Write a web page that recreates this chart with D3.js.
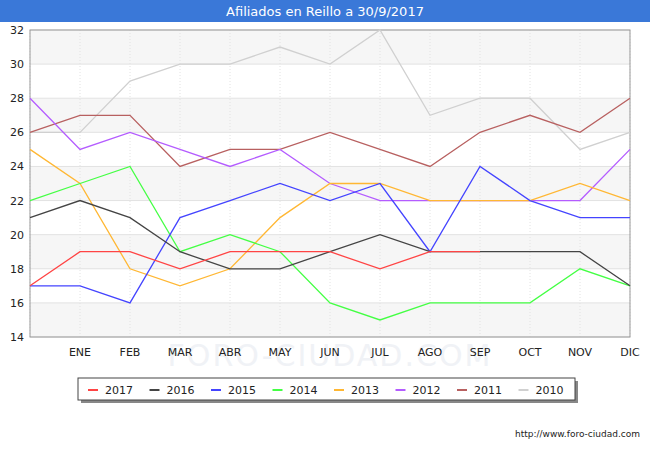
<!DOCTYPE html>
<html><head><meta charset="utf-8">
<script src="https://cdn.jsdelivr.net/npm/d3@7"></script>
<style>body{margin:0;background:#fff;font-family:"DejaVu Sans",sans-serif}</style>
</head><body><svg id="c" width="650" height="450"></svg>
<script>
var months = ['', 'ENE', 'FEB', 'MAR', 'ABR', 'MAY', 'JUN', 'JUL', 'AGO', 'SEP', 'OCT', 'NOV', 'DIC'];
var yTicks = [14, 16, 18, 20, 22, 24, 26, 28, 30, 32];
var years = ['2017', '2016', '2015', '2014', '2013', '2012', '2011', '2010'];
var colors = ['#ff4444', '#444444', '#4444ff', '#44ff44', '#ffb733', '#b45cff', '#b86060', '#d0d0d0'];
var s2017 = [17, 19, 19, 18, 19, 19, 19, 18, 19, 19];
var s2016 = [21, 22, 21, 19, 18, 18, 19, 20, 19, 19, 19, 19, 17];
var s2015 = [17, 17, 16, 21, 22, 23, 22, 23, 19, 24, 22, 21, 21];
var s2014 = [22, 23, 24, 19, 20, 19, 16, 15, 16, 16, 16, 18, 17];
var s2013 = [25, 23, 18, 17, 18, 21, 23, 23, 22, 22, 22, 23, 22];
var s2012 = [28, 25, 26, 25, 24, 25, 23, 22, 22, 22, 22, 22, 25];
var s2011 = [26, 27, 27, 24, 25, 25, 26, 25, 24, 26, 27, 26, 28];
var s2010 = [26, 26, 29, 30, 30, 31, 30, 32, 27, 28, 28, 25, 26];
var series = [s2017, s2016, s2015, s2014, s2013, s2012, s2011, s2010];

var svg = d3.select('#c');
var x = d3.scaleLinear().domain([0, 12]).range([30, 630]);
var y = d3.scaleLinear().domain([14, 32]).range([337, 30]);

// title bar
svg.append('rect').attr('width', 650).attr('height', 22).attr('fill', '#3a78d8');
svg.append('text').attr('x', 325).attr('y', 16).attr('text-anchor', 'middle')
    .attr('fill', '#fff').style('font-size', '13px').text('Afiliados en Reillo a 30/9/2017');

// bands
for (var i = 0; i < yTicks.length - 1; i++) {
    svg.append('rect').attr('x', 30).attr('width', 600)
        .attr('y', y(yTicks[i + 1])).attr('height', y(yTicks[i]) - y(yTicks[i + 1]))
        .attr('fill', i % 2 ? '#ffffff' : '#f6f6f6');
}
svg.selectAll('.hg').data(yTicks).enter().append('line')
    .attr('x1', 30).attr('x2', 630).attr('y1', function (d) { return y(d); }).attr('y2', function (d) { return y(d); })
    .attr('stroke', '#e2e2e2');
svg.selectAll('.vg').data(d3.range(13)).enter().append('line')
    .attr('y1', 30).attr('y2', 337).attr('x1', function (d) { return x(d); }).attr('x2', function (d) { return x(d); })
    .attr('stroke', '#e2e2e2').attr('stroke-dasharray', '1,2');
svg.append('rect').attr('x', 30).attr('y', 30).attr('width', 600).attr('height', 307)
    .attr('fill', 'none').attr('stroke', '#999');

// watermark
svg.append('text').attr('x', 330).attr('y', 366).attr('text-anchor', 'middle')
    .attr('fill', '#f0f2f6').style('font-size', '30px').style('letter-spacing', '2px').text('FORO-CIUDAD.COM');

// axes labels
svg.selectAll('.yl').data(yTicks).enter().append('text')
    .attr('x', 24).attr('y', function (d) { return y(d) + 4; }).attr('text-anchor', 'end')
    .style('font-size', '11px').attr('fill', '#222').text(function (d) { return d; });
svg.selectAll('.xl').data(months).enter().append('text')
    .attr('x', function (d, i) { return x(i); }).attr('y', 356).attr('text-anchor', 'middle')
    .style('font-size', '11px').attr('fill', '#222').text(function (d) { return d; });

var line = d3.line().x(function (d, i) { return x(i); }).y(function (d) { return y(d); });
for (var k = series.length - 1; k >= 0; k--) {
    svg.append('path').attr('d', line(series[k])).attr('fill', 'none')
        .attr('stroke', colors[k]).attr('stroke-width', 1.3);
}

// legend
svg.append('rect').attr('x', 81).attr('y', 381).attr('width', 497).attr('height', 22).attr('fill', '#888');
svg.append('rect').attr('x', 78).attr('y', 378).attr('width', 497).attr('height', 22)
    .attr('fill', '#fff').attr('stroke', '#444');
years.forEach(function (yr, j) {
    var lx = 88 + j * 61.5;
    svg.append('line').attr('x1', lx).attr('x2', lx + 10).attr('y1', 390).attr('y2', 390)
        .attr('stroke', colors[j]).attr('stroke-width', 2);
    svg.append('text').attr('x', lx + 17).attr('y', 394).style('font-size', '11px').attr('fill', '#222').text(yr);
});

svg.append('text').attr('x', 640).attr('y', 437).attr('text-anchor', 'end')
    .style('font-size', '9px').attr('fill', '#222').text('http://www.foro-ciudad.com');
</script></body></html>
